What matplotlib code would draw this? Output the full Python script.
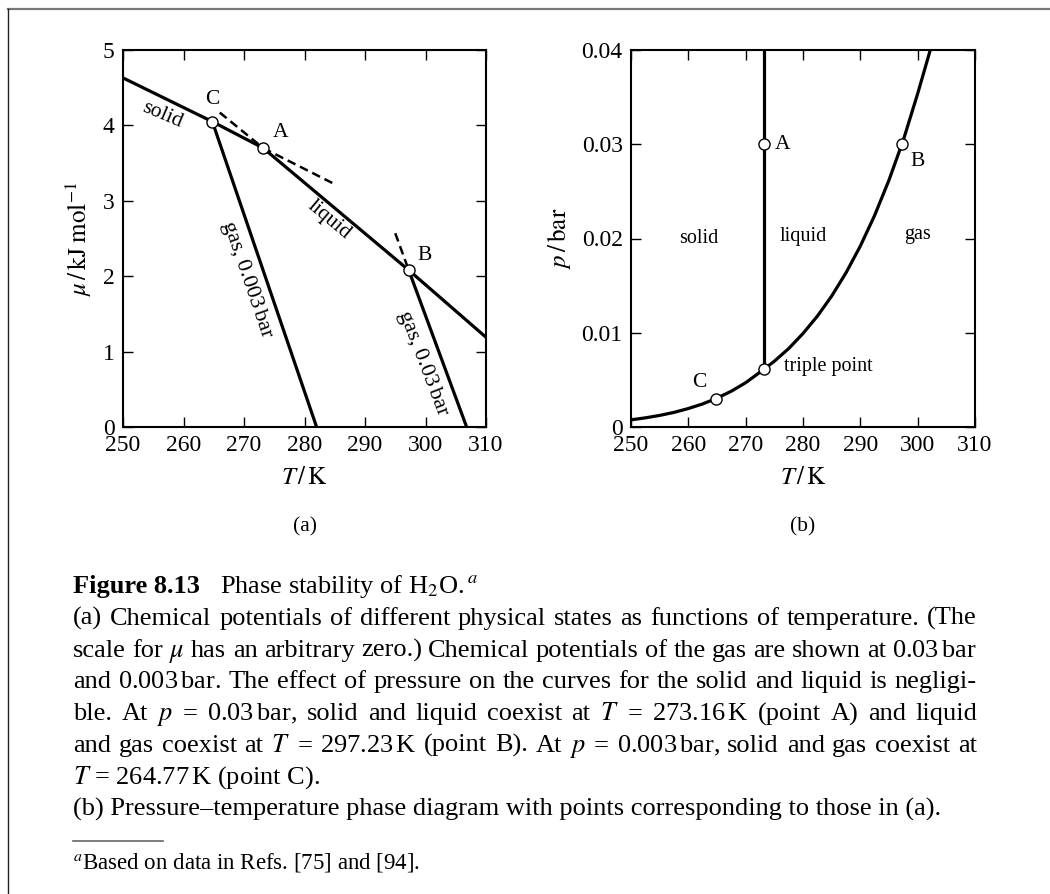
import matplotlib
matplotlib.use("Agg")
import matplotlib.pyplot as plt
from matplotlib.lines import Line2D

plt.rcParams['font.family'] = ['Liberation Serif', 'DejaVu Serif']
plt.rcParams['mathtext.fontset'] = 'stix'

# (a) chemical potential vs temperature
solid_T = [250.0, 264.77, 273.16]
solid_mu = [4.63, 4.05, 3.70]
liquid_T = [273.16, 297.23, 310.0]
liquid_mu = [3.70, 2.08, 1.19]
gas003_T = [264.77, 282.0]
gas003_mu = [4.05, 0.0]
gas03_T = [297.23, 306.8]
gas03_mu = [2.08, 0.0]
# metastable (dashed) continuations
solid_meta_T = [273.16, 285.0]
solid_meta_mu = [3.70, 3.22]
liquid_meta_T = [266.0, 273.16]
liquid_meta_mu = [4.17, 3.70]
gas03_meta_T = [295.0, 297.23]
gas03_meta_mu = [2.57, 2.08]
pts_a_T = [273.16, 297.23, 264.77]
pts_a_mu = [3.70, 2.08, 4.05]

# (b) p-T phase diagram
melt_T = [273.16, 273.16]
melt_p = [0.00611, 0.04]
vap_T = [250, 252.5, 255, 257.5, 260, 262.5, 265, 267.5, 270, 273.16, 275, 277.5,
         280, 282.5, 285, 287.5, 290, 292.5, 295, 297.5, 300, 302.2]
vap_p = [0.00076, 0.00097, 0.00123, 0.00155, 0.00196, 0.00245, 0.00306, 0.00380,
         0.00470, 0.00611, 0.00698, 0.00832, 0.00992, 0.01176, 0.01389, 0.01636,
         0.01920, 0.02246, 0.02620, 0.03044, 0.03537, 0.04000]
pts_b_T = [273.16, 297.23, 264.77, 273.16]
pts_b_p = [0.03, 0.03, 0.003, 0.00611]

xticks = [250, 260, 270, 280, 290, 300, 310]
mu_ticks = [0, 1, 2, 3, 4, 5]
p_ticks = [0, 0.01, 0.02, 0.03, 0.04]
p_ticklabels = ['0', '0.01', '0.02', '0.03', '0.04']

W, H = 1050, 894
fig = plt.figure(figsize=(W / 100, H / 100), dpi=100)


def box(x0, y0, x1, y1):
    return [x0 / W, 1 - y1 / H, (x1 - x0) / W, (y1 - y0) / H]


def style(ax):
    for s in ax.spines.values():
        s.set_linewidth(1.5)
    ax.tick_params(direction='in', top=True, right=True, length=7, width=1.0,
                   labelsize=17, pad=6)
    ax.tick_params(axis='x', pad=6)


lw = 2.3
ax1 = fig.add_axes(box(123, 50, 486, 427))
ax1.plot(solid_T, solid_mu, c='k', lw=lw)
ax1.plot(liquid_T, liquid_mu, c='k', lw=lw)
ax1.plot(gas003_T, gas003_mu, c='k', lw=lw)
ax1.plot(gas03_T, gas03_mu, c='k', lw=lw)
for tt, mm in [(solid_meta_T, solid_meta_mu), (liquid_meta_T, liquid_meta_mu),
               (gas03_meta_T, gas03_meta_mu)]:
    ax1.plot(tt, mm, c='k', lw=1.8, ls=(0, (3.5, 2)))
ax1.plot(pts_a_T, pts_a_mu, 'o', ms=8, mfc='white', mec='k', mew=1.0, zorder=5)
ax1.set_xlim(250, 310)
ax1.set_ylim(0, 5)
ax1.set_xticks(xticks)
ax1.set_yticks(mu_ticks)
style(ax1)
ax1.set_xlabel('$T\\,/\\,\\mathrm{K}$', fontsize=18, labelpad=8)
ax1.set_ylabel('$\\mu\\,/\\,\\mathrm{kJ\\;mol}^{-1}$', fontsize=18, labelpad=6)
fs = 14.5
ax1.text(264.7, 4.34, 'C', fontsize=fs + 1, ha='center', va='center')
ax1.text(276.0, 3.90, 'A', fontsize=fs + 1, ha='center', va='center')
ax1.text(299.9, 2.28, 'B', fontsize=fs + 1, ha='center', va='center')
ax1.text(256.4, 4.14, 'solid', fontsize=fs + 1, ha='center', va='center',
         rotation=-23, rotation_mode='anchor')
ax1.text(284.0, 2.75, 'liquid', fontsize=fs + 1, ha='center', va='center',
         rotation=-40, rotation_mode='anchor')
ax1.text(270.5, 1.95, 'gas, 0.003$\\,$bar', fontsize=fs + 1.5, ha='center', va='center',
         rotation=-71, rotation_mode='anchor')
ax1.text(299.6, 0.85, 'gas, 0.03$\\,$bar', fontsize=fs + 1.5, ha='center', va='center',
         rotation=-69, rotation_mode='anchor')

ax2 = fig.add_axes(box(631, 50, 975, 427))
ax2.plot(melt_T, melt_p, c='k', lw=lw)
ax2.plot(vap_T, vap_p, c='k', lw=lw)
ax2.plot(pts_b_T, pts_b_p, 'o', ms=8, mfc='white', mec='k', mew=1.0, zorder=5)
ax2.set_xlim(250, 310)
ax2.set_ylim(0, 0.04)
ax2.set_xticks(xticks)
ax2.set_yticks(p_ticks)
ax2.set_yticklabels(p_ticklabels)
style(ax2)
ax2.set_xlabel('$T\\,/\\,\\mathrm{K}$', fontsize=18, labelpad=8)
ax2.set_ylabel('$p\\,/\\,\\mathrm{bar}$', fontsize=18, labelpad=6)
ax2.text(276.5, 0.030, 'A', fontsize=fs + 1, ha='center', va='center')
ax2.text(299.9, 0.0282, 'B', fontsize=fs + 1, ha='center', va='center')
ax2.text(262.0, 0.0047, 'C', fontsize=fs + 1, ha='center', va='center')
ax2.text(261.9, 0.0200, 'solid', fontsize=fs, ha='center', va='center')
ax2.text(280.0, 0.0202, 'liquid', fontsize=fs, ha='center', va='center')
ax2.text(299.9, 0.0204, 'gas', fontsize=fs, ha='center', va='center')
ax2.text(284.5, 0.0064, 'triple point', fontsize=fs, ha='center', va='center')

fig.text(305 / W, 1 - 527 / H, '(a)', fontsize=fs + 1, ha='center', va='center')
fig.text(803 / W, 1 - 527 / H, '(b)', fontsize=fs + 1, ha='center', va='center')

# frame around the figure
fig.add_artist(Line2D([8 / W, 1], [1 - 9 / H, 1 - 9 / H], color='#777777', lw=1.6))
fig.add_artist(Line2D([8 / W, 8 / W], [0, 1 - 9 / H], color='#222222', lw=1.0))

# caption
cfs = 19
x0, x1 = 73, 977
renderer = fig.canvas.get_renderer()


def justify(y, line, size=cfs):
    words = line.split(' ')
    arts = [fig.text(0, 1 - y / H, w, fontsize=size, va='baseline') for w in words]
    widths = [a.get_window_extent(renderer).width for a in arts]
    gap = (x1 - x0 - sum(widths)) / (len(words) - 1)
    x = x0
    for a, w in zip(arts, widths):
        a.set_x(x / W)
        x += w + gap


base = 593
step = 31.8
fig.text(x0 / W, 1 - base / H, 'Figure 8.13', fontsize=cfs, fontweight='bold', va='baseline')
fig.text(220 / W, 1 - base / H, 'Phase stability of H$_2$O.$\\,^{a}$', fontsize=cfs, va='baseline')
lines = [
    "(a) Chemical potentials of different physical states as functions of temperature. (The",
    "scale for $\\mu$ has an arbitrary zero.) Chemical potentials of the gas are shown at 0.03$\\,$bar",
    "and 0.003$\\,$bar. The effect of pressure on the curves for the solid and liquid is negligi-",
    "ble. At $p$ = 0.03$\\,$bar, solid and liquid coexist at $T$ = 273.16$\\,$K (point A) and liquid",
    "and gas coexist at $T$ = 297.23$\\,$K (point B). At $p$ = 0.003$\\,$bar, solid and gas coexist at",
]
for i, ln in enumerate(lines):
    justify(base + step * (i + 1), ln)
fig.text(x0 / W, 1 - (base + step * 6) / H, '$T$ = 264.77$\\,$K (point C).', fontsize=cfs, va='baseline')
fig.text(x0 / W, 1 - (base + step * 7) / H,
         '(b) Pressure\u2013temperature phase diagram with points corresponding to those in (a).',
         fontsize=cfs, va='baseline')
fig.add_artist(Line2D([x0 / W, 163 / W], [1 - 841 / H, 1 - 841 / H], color='#666666', lw=1.2))
fig.text(x0 / W, 1 - 868 / H, '$^{a}$Based on data in Refs. [75] and [94].', fontsize=16.5, va='baseline')

fig.savefig('out.png', dpi=100)
